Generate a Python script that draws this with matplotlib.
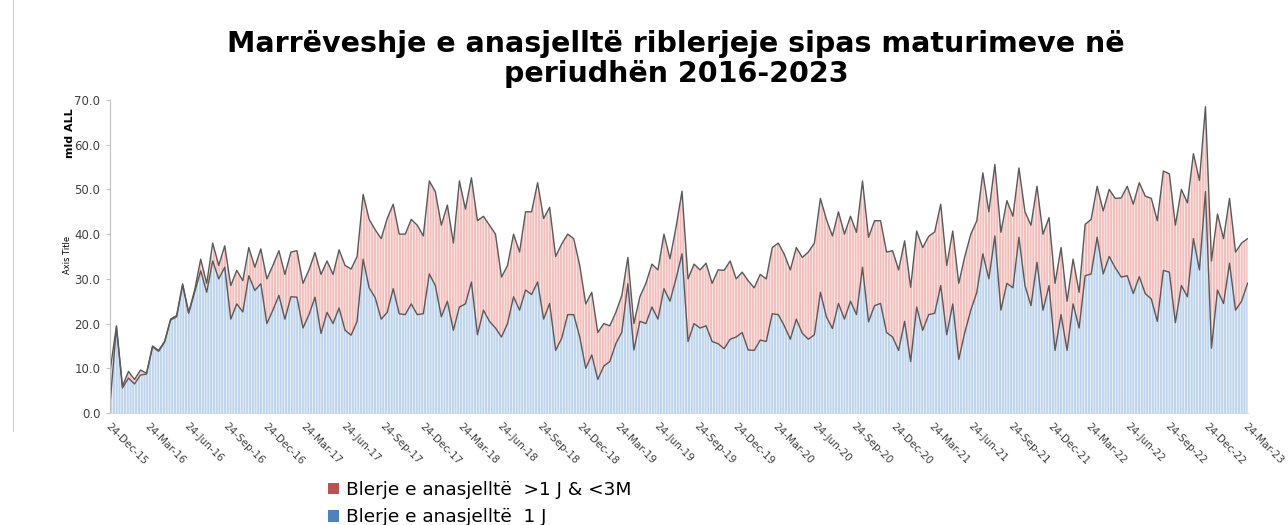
import numpy as np
import pandas as pd
import matplotlib
matplotlib.use('Agg')
from matplotlib import pyplot as plt
from matplotlib.patches import Patch
from matplotlib.lines import Line2D

# te dhenat (mld ALL), cdo dy jave nga 24-Dec-15
dates = pd.date_range('2015-12-24', periods=190, freq='14D')

blerje_1j = [
    3, 19.2, 5.6, 7.8, 6.5, 8.5, 8.7, 14.8, 13.8, 15.8,
    20.8, 21.5, 28.6, 22.3, 27, 31.8, 27, 34, 30, 32.6,
    21, 24.4, 22.6, 30.7, 27.4, 28.9, 20, 23, 26.3, 21,
    26, 25.9, 19, 22, 25.9, 17.8, 22.5, 20, 23.5, 18.5,
    17.4, 20.5, 34.4, 28, 25.8, 21, 22.5, 27.8, 22.2, 22,
    24.4, 22, 22.2, 31.1, 28.5, 21.5, 25, 18.5, 23.7, 24.4,
    29.3, 17.5, 23, 20.5, 19, 17, 20, 26, 23, 27.5,
    26.5, 29.3, 21, 24.5, 14, 16.7, 22, 22, 17, 10,
    13, 7.5, 10.5, 11.5, 15.5, 18.1, 28.9, 14.1, 20.5, 20,
    23.7, 21, 27.8, 25, 30, 35.6, 16, 20, 19, 19.5,
    16, 15.5, 14.4, 16.5, 17, 18, 14.1, 14, 16.3, 16,
    22.2, 22, 19.5, 16.5, 21, 17.8, 16.5, 17.5, 27, 21.5,
    18.9, 24.5, 21, 25, 22, 32.6, 20.4, 24, 24.5, 18,
    17, 14, 20.5, 11.5, 23.7, 18.5, 22, 22.3, 28.5, 17.5,
    24.4, 12, 18, 23, 27, 35.6, 30, 39.6, 23, 29,
    28, 39.3, 28.5, 24, 33.7, 23, 28.5, 14, 22, 14,
    24.4, 19, 30.7, 31.1, 39.3, 31.1, 35, 32.5, 30.4, 30.7,
    26.7, 30.5, 26.7, 25.5, 20.5, 31.9, 31.5, 20.2, 28.5, 26,
    39, 32, 49.5, 14.5, 27.5, 24.5, 33.5, 23, 25, 29,
]

blerje_1j_3m = [
    7, 0.3, 0.4, 1.5, 1.0, 1.1, 0.2, 0.2, 0.2, 0.2,
    0.2, 0.3, 0.3, 0.2, 0.5, 2.6, 2.0, 4.0, 3.0, 4.8,
    7.5, 7.5, 7.0, 6.3, 5.2, 7.8, 10, 10, 10, 10,
    10, 10.4, 10, 10, 10, 13.2, 11.5, 11, 13, 14.5,
    14.8, 14.5, 14.5, 15.3, 15.2, 18, 21, 18.9, 17.8, 18,
    18.9, 20, 17.4, 20.8, 21, 20.5, 21.5, 19.5, 28.2, 21.2,
    23.3, 25.5, 21, 21.5, 21, 13.4, 13, 14, 13, 17.5,
    18.5, 22.2, 22.5, 21.5, 21, 21.1, 18, 17, 16, 14.4,
    14, 10.5, 9.5, 8, 7, 8.2, 5.9, 5.9, 5.5, 9,
    9.6, 11, 12.2, 9.5, 11.5, 14, 14, 13.3, 13, 14,
    13, 16.5, 17.5, 17.5, 13, 13.5, 15.5, 14, 14.7, 14,
    14.8, 16, 16, 15.5, 16, 17, 19.5, 20.5, 21, 21.8,
    20.7, 20.5, 19, 19, 18.4, 19.3, 18.9, 19, 18.5, 18,
    19.3, 18, 18, 16.6, 17, 18.5, 17.5, 18.2, 18.2, 15.5,
    16.3, 17, 17, 17, 16, 18.1, 15, 16, 17.4, 18.5,
    16, 15.5, 16.5, 18, 17, 17, 15.2, 15, 15, 11,
    10, 8, 11.5, 12.2, 11.4, 14.1, 15, 15.5, 17.7, 20,
    20, 21, 21.8, 22.5, 22.5, 22.2, 22, 21.8, 21.5, 21,
    19, 20, 19, 19.5, 17, 14.5, 14.5, 13, 13, 10,
]

tick_dates = [pd.Timestamp('2015-12-24') + pd.DateOffset(months=3 * k) for k in range(30)]

blue = np.array(blerje_1j)
top = blue + np.array(blerje_1j_3m)

plt.rcParams['hatch.linewidth'] = 0.45

fig = plt.figure(figsize=(12.88, 5.25), dpi=100)
ax = fig.add_axes([110 / 1288, 1 - 413 / 525, 1138 / 1288, 313 / 525])

# siperfaqet me vija vertikale (si ne Excel)
ax.fill_between(dates, 0, blue, facecolor='#bed3ec', edgecolor='white', hatch='|' * 6, linewidth=0)
ax.fill_between(dates, blue, top, facecolor='#f2bfbc', edgecolor='white', hatch='|' * 6, linewidth=0)
ax.plot(dates, blue, color='#5a5a5a', lw=1.0)
ax.plot(dates, top, color='#5a5a5a', lw=1.0)

ax.set_xlim(pd.Timestamp('2015-12-23'), pd.Timestamp('2023-03-24'))
ax.set_ylim(0, 70)
ax.set_yticks(np.arange(0, 71, 10))
ax.set_yticklabels(['%.1f' % v for v in np.arange(0, 71, 10)], fontsize=8.5, color='#404040')
ax.set_xticks(tick_dates)
ax.set_xticklabels([d.strftime('%d-%b-%y') for d in tick_dates], rotation=-45,
                   ha='left', va='top', rotation_mode='anchor', fontsize=7.5, color='#404040')
ax.tick_params(axis='x', length=0, pad=6)
ax.tick_params(axis='y', length=3, color='#bfbfbf', pad=4)
for s in ['top', 'right']:
    ax.spines[s].set_visible(False)
ax.spines['left'].set_color('#bfbfbf')
ax.spines['bottom'].set_color('#d9d9d9')

fig.text(0.525, 0.888, 'Marrëveshje e anasjelltë riblerjeje sipas maturimeve në\nperiudhën 2016-2023',
         ha='center', va='center', fontsize=20.5, fontweight='bold', linespacing=1.1)
fig.text(70 / 1288, 1 - 133 / 525, 'mld ALL', rotation=90, ha='center', va='center',
         fontsize=8, fontweight='bold')
fig.text(68 / 1288, 1 - 255 / 525, 'Axis Title', rotation=90, ha='center', va='center', fontsize=6)

fig.add_artist(Line2D([13 / 1288, 13 / 1288], [0.18, 1.0], color='#d0d0d0', lw=0.8))

handles = [Patch(facecolor='#c0504d'), Patch(facecolor='#4f81bd')]
fig.legend(handles, ['Blerje e anasjelltë  >1 J & <3M', 'Blerje e anasjelltë  1 J'],
           loc='upper left', bbox_to_anchor=(328 / 1288, 1 - 481 / 525), frameon=False,
           fontsize=13.3, handlelength=0.6, handleheight=0.6, handletextpad=0.4,
           labelspacing=0.5, borderpad=0, borderaxespad=0)

plt.savefig('out.png', dpi=100)
